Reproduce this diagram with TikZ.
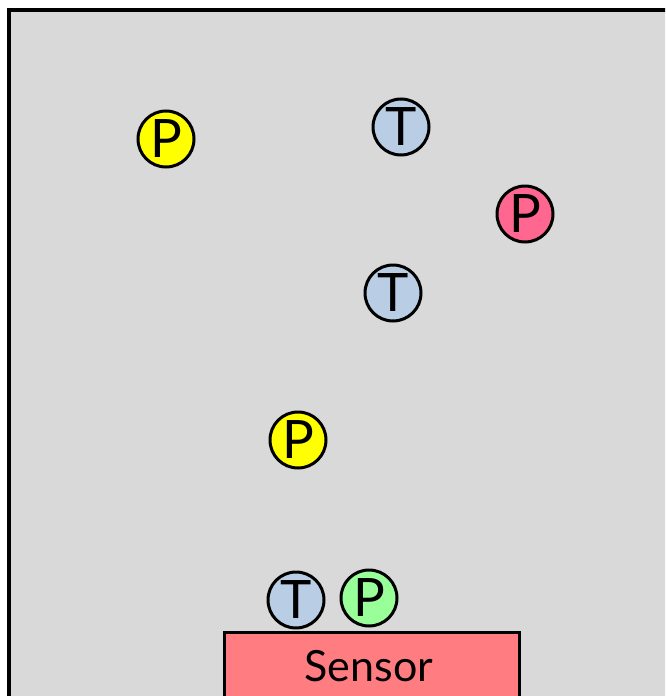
\documentclass[tikz,border=0pt]{standalone}
\usepackage{fontspec}
\setmainfont{Lato}
\definecolor{bggray}{HTML}{D9D9D9}
\definecolor{tblue}{HTML}{B9CDE5}
\definecolor{pyellow}{HTML}{FFFF00}
\definecolor{ppink}{HTML}{FF6690}
\definecolor{pgreen}{HTML}{99FF99}
\definecolor{sensorred}{HTML}{FF7C80}
\begin{document}
\begin{tikzpicture}[x=1pt,y=-1pt,
  particle/.style={circle,draw=black,line width=3pt,minimum size=56pt,inner sep=0pt,
    font=\fontsize{53}{53}\selectfont},
  tpart/.style={particle,fill=tblue},
  ypart/.style={particle,fill=pyellow},
  pinkpart/.style={particle,fill=ppink},
  gpart/.style={particle,fill=pgreen},
  sensorbox/.style={draw=black,line width=3pt,fill=sensorred}]
\clip (0,0) rectangle (665,696);
\fill[white] (0,0) rectangle (665,696);
% chamber
\draw[line width=4.5pt,fill=bggray] (9,10) rectangle (720,760);
% sensor plate
\draw[sensorbox] (224,632) rectangle (519,760);
\node[font=\fontsize{43}{43}\selectfont] (sensorlabel) at (369,666) {Sensor};
% particles
\node[ypart] (p1) at (166,139) {P};
\node[tpart] (t1) at (401,127) {T};
\node[pinkpart] (p2) at (525,214) {P};
\node[tpart] (t2) at (393,293) {T};
\node[ypart] (p3) at (298,440) {P};
\node[tpart] (t3) at (296,600) {T};
\node[gpart] (p4) at (369,598) {P};
\end{tikzpicture}
\end{document}
